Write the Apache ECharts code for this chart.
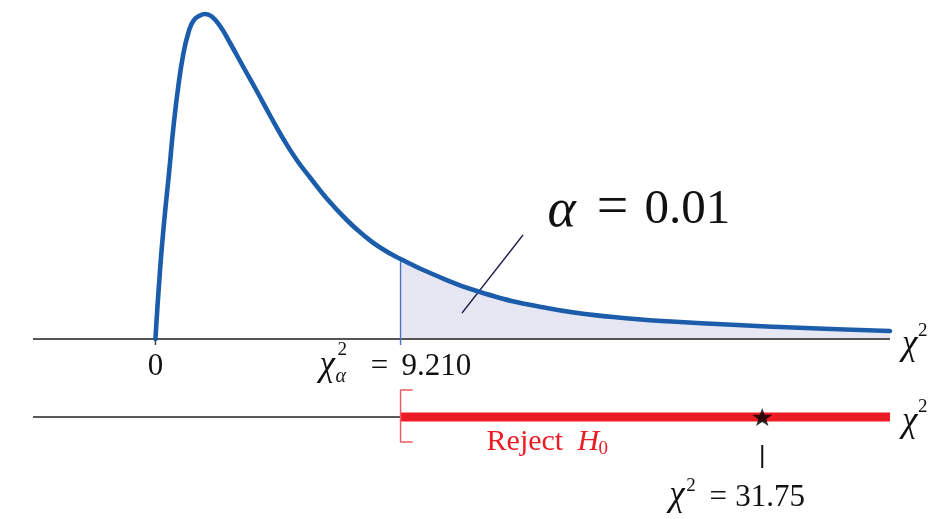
<!DOCTYPE html>
<html><head><meta charset="utf-8">
<script src="https://cdn.jsdelivr.net/npm/echarts@6/dist/echarts.min.js"></script>
<style>html,body{margin:0;padding:0;background:#fff}#c{width:945px;height:519px}</style>
</head><body><div id="c"></div>
<script>
// ---- data (figure is schematic, x in chi-square units of the upper axis) ----
const curveX = [0, 0.173, 0.334, 0.511, 0.673, 0.861, 1.048, 1.236, 1.424, 1.676, 1.864, 2.116, 2.428, 2.804, 3.303, 3.807, 4.307, 4.806, 5.310, 5.810, 6.437, 7.189, 7.813, 8.440, 9.21, 10.32, 12.19, 14.70, 17.20, 19.71, 23.47, 27.60];
const curveY = [0, 0.69, 1.19, 1.66, 2.11, 2.53, 2.85, 3.06, 3.18, 3.235, 3.25, 3.225, 3.13, 2.96, 2.72, 2.48, 2.235, 2.00, 1.79, 1.615, 1.405, 1.19, 1.04, 0.915, 0.80, 0.66, 0.47, 0.31, 0.22, 0.17, 0.12, 0.08];
const axisRange = [-4.6, 27.6];
const criticalX = 9.21;          // chi2_alpha = 9.210
const statDrawnX = 22.8;         // where the star is drawn on the schematic line
const rejectLineY = -0.78;       // lower number line level
const tickLabels = ['0', '9.210'];
const alphaText = '0.01';
const statText = '31.75';
const rejectText = 'Reject';

const SERIF = '"Liberation Serif","DejaVu Serif",serif';
const BLUE = '#1b5dab', RED = '#ec1c24', INK = '#111';

const chart = echarts.init(document.getElementById('c'));
const curve = curveX.map((x, i) => [x, curveY[i]]);
const tail = curve.filter(p => p[0] >= criticalX - 1e-9);
const critY = curveY[curveX.indexOf(criticalX)];

function seg(data, color, width, z) {
  return { type: 'line', data, symbol: 'none', silent: true, animation: false, z: z || 2,
    lineStyle: { color, width, cap: 'butt' } };
}

chart.setOption({
  animation: false,
  grid: { left: 33, right: 55, top: 9, bottom: 10 },
  xAxis: { type: 'value', min: axisRange[0], max: axisRange[1], show: false },
  yAxis: { type: 'value', min: -1.7, max: 3.3, show: false },
  series: [
    { type: 'line', data: tail, smooth: 0.5, symbol: 'none', silent: true, z: 1,
      lineStyle: { width: 0 }, areaStyle: { color: '#e7e7f3', opacity: 1 } },
    seg([[axisRange[0], 0], [axisRange[1], 0]], '#555', 2.2, 2),
    seg([[0, 0], [0, -0.06]], '#444', 1.5, 2),
    seg([[criticalX, -0.06], [criticalX, critY]], '#4a74bb', 1.4, 3),
    seg([[13.81, 1.04], [11.52, 0.26]], '#1c1c4c', 1.3, 4),
    { type: 'line', data: curve, smooth: 0.5, symbol: 'none', silent: true, z: 5,
      lineStyle: { color: BLUE, width: 4.6, cap: 'round' } },
    seg([[axisRange[0], rejectLineY], [criticalX, rejectLineY]], '#222', 1.5, 2),
    seg([[criticalX, rejectLineY], [axisRange[1], rejectLineY]], RED, 9, 3),
    seg([[criticalX + 0.45, -0.51], [criticalX, -0.51], [criticalX, -1.03], [criticalX + 0.45, -1.03]], '#f05a62', 1.5, 3),
    seg([[statDrawnX, -1.06], [statDrawnX, -1.29]], INK, 2, 3),
    { type: 'scatter', data: [[statDrawnX, rejectLineY]], silent: true, z: 6,
      symbol: 'path://M0,-10 L2.351,-3.236 L9.511,-3.090 L3.804,1.236 L5.878,8.090 L0,4 L-5.878,8.090 L-3.804,1.236 L-9.511,-3.090 L-2.351,-3.236 Z',
      symbolSize: [20, 19], symbolKeepAspect: true, itemStyle: { color: '#000' } }
  ]
});

function px(p) { return chart.convertToPixel({ gridIndex: 0 }, p); }
function T(anchor, dx, dy, text, size, o) {
  o = o || {};
  const p = px(anchor);
  return { type: 'text', x: p[0] + dx, y: p[1] + dy, silent: true, z: 10,
    style: { text, fill: o.fill || INK, font: (o.italic ? 'italic ' : '') + size + 'px ' + SERIF,
      align: o.align || 'left', verticalAlign: 'middle', textAlign: o.align || 'left', textVerticalAlign: 'middle' } };
}
const c0 = [criticalX, 0], r0 = [criticalX, rejectLineY], s0 = [statDrawnX, rejectLineY];
const e0 = [axisRange[1], 0], e1 = [axisRange[1], rejectLineY];
const aA = [14.77, 1.29];
chart.setOption({ graphic: [
  T([0, 0], 0, 28, tickLabels[0], 31, { align: 'center' }),
  T(c0, -81, 27, 'χ', 35, { italic: true }),
  T(c0, -63, 11, '2', 19),
  T(c0, -65, 38, 'α', 20, { italic: true }),
  T(c0, -21, 28, '=', 31, { align: 'center' }),
  T(c0, 1, 28, tickLabels[1], 31),
  T(aA, -1, 2, 'α', 54, { italic: true }),
  T(aA, 64, -1, '=', 56, { align: 'center' }),
  T(aA, 96, 0, alphaText, 49),
  T(r0, 86, 25, rejectText, 30, { fill: RED }),
  T(r0, 177, 25, 'H', 30, { fill: RED, italic: true }),
  T(r0, 198, 32, '0', 19, { fill: RED }),
  T(s0, -93, 79, 'χ', 35, { italic: true }),
  T(s0, -76, 69, '2', 19),
  T(s0, -44, 81, '=', 31, { align: 'center' }),
  T(s0, -27, 81, statText, 31),
  T(e0, 12, 6, 'χ', 35, { italic: true }),
  T(e0, 28, -8, '2', 19),
  T(e1, 12, 5, 'χ', 35, { italic: true }),
  T(e1, 28, -10, '2', 19)
] });
</script></body></html>
